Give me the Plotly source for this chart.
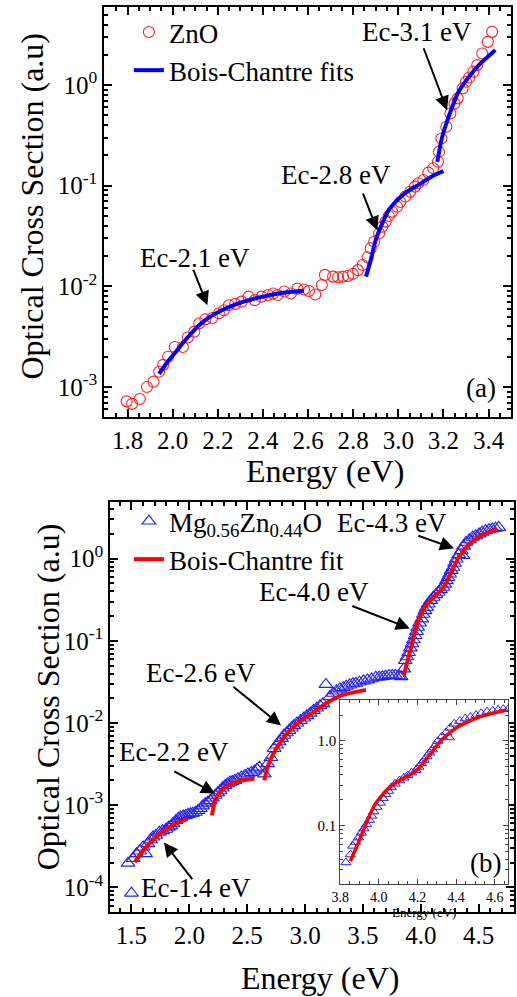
import plotly.graph_objects as go

# ---------------- Panel (a): ZnO ----------------
zno_E = [1.796, 1.82, 1.854, 1.886, 1.915, 1.94, 1.958, 1.98, 2.009, 2.045, 2.067, 2.096,
         2.118, 2.145, 2.176, 2.205, 2.227, 2.249, 2.277, 2.306, 2.336, 2.364, 2.394, 2.423,
         2.445, 2.466, 2.495, 2.524, 2.553, 2.582, 2.604, 2.632, 2.661, 2.675, 2.711, 2.733,
         2.755, 2.777, 2.799, 2.821, 2.842, 2.864, 2.878, 2.893, 2.915, 2.929, 2.944, 2.958,
         2.973, 2.995, 3.009, 3.031, 3.053, 3.074, 3.089, 3.111, 3.133, 3.155, 3.176, 3.18,
         3.191, 3.213, 3.231, 3.249, 3.263, 3.285, 3.30, 3.314, 3.333, 3.35, 3.372, 3.397, 3.416]
zno_sigma = [7.2e-4, 6.8e-4, 7.6e-4, 1.0e-3, 1.13e-3, 1.42e-3, 1.66e-3, 2.0e-3, 2.5e-3, 2.5e-3,
             3.1e-3, 3.55e-3, 4.3e-3, 4.7e-3, 4.85e-3, 5.4e-3, 5.8e-3, 6.5e-3, 6.7e-3, 7.05e-3,
             7.9e-3, 7.3e-3, 7.9e-3, 8.2e-3, 8.5e-3, 8.2e-3, 8.9e-3, 8.5e-3, 9.5e-3, 9.3e-3,
             9.0e-3, 8.3e-3, 1.03e-2, 1.3e-2, 1.25e-2, 1.23e-2, 1.25e-2, 1.27e-2, 1.33e-2, 1.45e-2,
             1.63e-2, 1.95e-2, 2.39e-2, 2.78e-2, 3.37e-2, 3.92e-2, 4.4e-2, 5.0e-2, 5.5e-2, 6.2e-2,
             6.9e-2, 7.8e-2, 8.7e-2, 9.8e-2, 0.106, 0.114, 0.135, 0.149, 0.173, 0.218, 0.295,
             0.386, 0.523, 0.658, 0.738, 0.927, 1.08, 1.19, 1.36, 1.58, 2.06, 2.69, 3.38]

fitA1_E = [1.94, 1.975, 2.009, 2.06, 2.118, 2.16, 2.205, 2.27, 2.336, 2.40, 2.466, 2.53, 2.582]
fitA1_s = [1.35e-3, 1.75e-3, 2.17e-3, 3.0e-3, 4.14e-3, 4.9e-3, 5.6e-3, 6.5e-3, 7.3e-3, 7.9e-3,
           8.5e-3, 8.85e-3, 9.06e-3]
fitA2_E = [2.857, 2.878, 2.90, 2.929, 2.958, 2.995, 3.038, 3.089, 3.147, 3.20]
fitA2_s = [1.25e-2, 1.83e-2, 2.89e-2, 4.23e-2, 5.74e-2, 7.2e-2, 8.7e-2, 0.102, 0.123, 0.14]
fitA3_E = [3.173, 3.191, 3.213, 3.234, 3.263, 3.307, 3.357, 3.43]
fitA3_s = [0.173, 0.284, 0.416, 0.565, 0.826, 1.16, 1.58, 2.23]

# ---------------- Panel (b): Mg0.56Zn0.44O ----------------
mzo_E = [1.47, 1.50, 1.514, 1.543, 1.571, 1.60, 1.622, 1.642, 1.665, 1.685, 1.71, 1.741, 1.77,
         1.798, 1.82, 1.84, 1.86, 1.883, 1.905, 1.925, 1.947, 1.968, 1.99, 2.01, 2.03, 2.053,
         2.075, 2.095, 2.115, 2.138, 2.16, 2.18, 2.20, 2.223, 2.245, 2.265, 2.285, 2.308, 2.33,
         2.35, 2.37, 2.393, 2.42, 2.45, 2.48, 2.506, 2.535, 2.563, 2.585, 2.605, 2.648, 2.676,
         2.705, 2.733, 2.755, 2.776, 2.797, 2.818, 2.84, 2.861, 2.882, 2.903, 2.93, 2.96, 2.99,
         3.016, 3.045, 3.073, 3.10, 3.13, 3.155, 3.18, 3.215, 3.243, 3.27, 3.30, 3.33, 3.356,
         3.385, 3.413, 3.44, 3.47, 3.505, 3.54, 3.575, 3.611, 3.64, 3.668, 3.695, 3.725, 3.753,
         3.781, 3.81, 3.83, 3.853, 3.866, 3.88, 3.895, 3.91, 3.923, 3.937, 3.951, 3.963, 3.974,
         3.99, 4.008, 4.022, 4.036, 4.05, 4.065, 4.085, 4.108, 4.13, 4.15, 4.17, 4.193, 4.207,
         4.221, 4.235, 4.249, 4.263, 4.278, 4.292, 4.306, 4.328, 4.349, 4.365, 4.37, 4.391,
         4.42, 4.448, 4.475, 4.504, 4.53, 4.561, 4.59, 4.618, 4.645, 4.674]
mzo_sigma = [1.97e-4, 8.5e-5, 2.24e-4, 2.57e-4, 2.77e-4, 3.1e-4, 2.57e-4, 3.4e-4, 3.8e-4, 4.1e-4,
             4.3e-4, 4.7e-4, 4.9e-4, 5.1e-4, 5.4e-4, 5.6e-4, 6.0e-4, 6.5e-4, 6.9e-4, 7.2e-4,
             7.4e-4, 7.5e-4, 7.7e-4, 7.9e-4, 8.0e-4, 8.2e-4, 8.6e-4, 9.1e-4, 9.8e-4, 1.04e-3,
             1.09e-3, 1.14e-3, 1.22e-3, 1.32e-3, 1.41e-3, 1.5e-3, 1.62e-3, 1.73e-3, 1.82e-3,
             1.9e-3, 1.95e-3, 2.0e-3, 2.1e-3, 2.2e-3, 2.3e-3, 2.4e-3, 2.5e-3, 2.6e-3, 2.75e-3,
             2.9e-3, 2.4e-3, 3.2e-3, 3.8e-3, 4.9e-3, 5.4e-3, 5.9e-3, 6.5e-3, 7.1e-3, 7.6e-3,
             8.1e-3, 8.7e-3, 9.3e-3, 1.0e-2, 1.07e-2, 1.15e-2, 1.23e-2, 1.32e-2, 1.42e-2, 1.52e-2,
             1.63e-2, 1.72e-2, 2.95e-2, 2.1e-2, 2.3e-2, 2.45e-2, 2.6e-2, 2.7e-2, 2.8e-2, 2.9e-2,
             3.0e-2, 3.05e-2, 3.15e-2, 3.25e-2, 3.35e-2, 3.45e-2, 3.6e-2, 3.62e-2, 3.67e-2,
             3.72e-2, 3.8e-2, 3.8e-2, 3.8e-2, 3.75e-2, 3.67e-2, 4.55e-2, 5.75e-2, 6.4e-2, 7.2e-2,
             8.2e-2, 9.2e-2, 0.103, 0.116, 0.13, 0.146, 0.165, 0.185, 0.21, 0.233, 0.255, 0.281,
             0.31, 0.339, 0.365, 0.39, 0.42, 0.448, 0.49, 0.54, 0.59, 0.65, 0.72, 0.785, 0.88,
             0.99, 1.12, 1.25, 1.09, 1.42, 1.58, 1.7, 1.82, 1.9, 2.0, 2.1, 2.19, 2.25, 2.3, 2.35, 2.4]

fitB1_E = [1.528, 1.6, 1.713, 1.855, 1.982]
fitB1_s = [2.03e-4, 2.8e-4, 4.1e-4, 5.7e-4, 6.8e-4]
fitB2_E = [2.195, 2.223, 2.265, 2.336, 2.45, 2.563]
fitB2_s = [7.5e-4, 1.14e-3, 1.44e-3, 1.74e-3, 2.0e-3, 2.1e-3]
fitB3_E = [2.648, 2.676, 2.733, 2.818, 2.931, 3.073, 3.186, 3.328, 3.526]
fitB3_s = [2.0e-3, 2.9e-3, 4.4e-3, 6.7e-3, 9.8e-3, 1.35e-2, 1.75e-2, 2.2e-2, 2.53e-2]
fitB4_E = [3.853, 3.895, 3.938, 3.98, 4.036, 4.108, 4.179, 4.207, 4.264, 4.32, 4.406, 4.519, 4.66]
fitB4_s = [3.8e-2, 6.3e-2, 0.11, 0.176, 0.256, 0.339, 0.417, 0.47, 0.68, 0.99, 1.44, 1.9, 2.3]

inset_Emin = 3.83

# tick labels
a_yticks = [1e-3, 1e-2, 1e-1, 1]
a_ytext = ["10<sup>-3</sup>", "10<sup>-2</sup>", "10<sup>-1</sup>", "10<sup>0</sup>"]
b_yticks = [1e-4, 1e-3, 1e-2, 1e-1, 1]
b_ytext = ["10<sup>-4</sup>", "10<sup>-3</sup>", "10<sup>-2</sup>", "10<sup>-1</sup>", "10<sup>0</sup>"]
c_yticks = [0.1, 1]
c_ytext = ["0.1", "1.0"]

FONT = "Times New Roman, Liberation Serif, serif"


def join_segments(*segs):
    xs, ys = [], []
    for sx, sy in segs:
        xs += list(sx) + [None]
        ys += list(sy) + [None]
    return xs, ys


def minor_logvals(lo, hi):
    vals = []
    for d in range(lo, hi + 1):
        for m in range(2, 10):
            vals.append(m * 10.0 ** d)
    return vals


fig = go.Figure()

# panel (a)
fig.add_trace(go.Scatter(x=zno_E, y=zno_sigma, mode="markers", name="ZnO",
                         marker=dict(symbol="circle-open", size=11, color="#ff2020", line=dict(width=1.1)),
                         xaxis="x", yaxis="y", legend="legend"))
fxa, fya = join_segments((fitA1_E, fitA1_s), (fitA2_E, fitA2_s), (fitA3_E, fitA3_s))
fig.add_trace(go.Scatter(x=fxa, y=fya, mode="lines", name="Bois-Chantre fits",
                         line=dict(color="#0000ff", width=4, shape="spline", smoothing=0.6),
                         connectgaps=False, xaxis="x", yaxis="y", legend="legend"))

# panel (b)
fig.add_trace(go.Scatter(x=mzo_E, y=mzo_sigma, mode="markers",
                         name="Mg<sub>0.56</sub>Zn<sub>0.44</sub>O",
                         marker=dict(symbol="triangle-up-open", size=12, color="#2020ff", line=dict(width=1.1)),
                         xaxis="x2", yaxis="y2", legend="legend2"))
fxb, fyb = join_segments((fitB1_E, fitB1_s), (fitB2_E, fitB2_s), (fitB3_E, fitB3_s), (fitB4_E, fitB4_s))
fig.add_trace(go.Scatter(x=fxb, y=fyb, mode="lines", name="Bois-Chantre fit",
                         line=dict(color="#ff0000", width=4, shape="spline", smoothing=0.5),
                         connectgaps=False, xaxis="x2", yaxis="y2", legend="legend2"))

# inset
ins_x = [e for e in mzo_E if e >= inset_Emin]
ins_y = [s for e, s in zip(mzo_E, mzo_sigma) if e >= inset_Emin]
fig.add_trace(go.Scatter(x=ins_x, y=ins_y, mode="markers", showlegend=False,
                         marker=dict(symbol="triangle-up-open", size=9, color="#2020ff", line=dict(width=1)),
                         xaxis="x3", yaxis="y3"))
fig.add_trace(go.Scatter(x=fitB4_E, y=fitB4_s, mode="lines", showlegend=False,
                         line=dict(color="#ff0000", width=3.5, shape="spline", smoothing=0.5),
                         xaxis="x3", yaxis="y3"))

W, H = 517, 997


def px(xp):
    return xp / W


def py(yp):
    return 1 - yp / H


axis_common = dict(showline=True, linewidth=2, linecolor="black", mirror="allticks",
                   ticks="inside", ticklen=8, tickwidth=2, tickcolor="black", showgrid=False,
                   zeroline=False, tickfont=dict(family=FONT, size=25, color="black"))

fig.update_layout(
    width=W, height=H, margin=dict(l=0, r=0, t=0, b=0),
    paper_bgcolor="white", plot_bgcolor="white",
    font=dict(family=FONT, color="black"),
    xaxis=dict(domain=[px(97), px(511)], range=[1.697, 3.5], anchor="y",
               tick0=1.8, dtick=0.2, tickformat=".1f",
               minor=dict(dtick=0.05, ticks="inside", ticklen=4, tickwidth=1.5, tickcolor="black"),
               **axis_common),
    yaxis=dict(domain=[py(417), py(7)], type="log", range=[-3.298, 0.776], anchor="x",
               tickmode="array", tickvals=a_yticks, ticktext=a_ytext,
               minor=dict(tickmode="array", tickvals=minor_logvals(-4, 0), ticks="inside",
                          ticklen=4, tickwidth=1.5, tickcolor="black"),
               **axis_common),
    xaxis2=dict(domain=[px(103), px(514)], range=[1.316, 4.806], anchor="y2",
                tick0=1.5, dtick=0.5, tickformat=".1f",
                minor=dict(dtick=0.1, ticks="inside", ticklen=4, tickwidth=1.5, tickcolor="black"),
                **axis_common),
    yaxis2=dict(domain=[py(912), py(502)], type="log", range=[-4.30, 0.689], anchor="x2",
                tickmode="array", tickvals=b_yticks, ticktext=b_ytext,
                minor=dict(tickmode="array", tickvals=minor_logvals(-5, 0), ticks="inside",
                           ticklen=4, tickwidth=1.5, tickcolor="black"),
                **axis_common),
    xaxis3=dict(domain=[px(337), px(508)], range=[3.8, 4.67], anchor="y3",
                tick0=3.8, dtick=0.2, tickformat=".1f",
                showline=True, linewidth=1, linecolor="#444", mirror="allticks",
                ticks="inside", ticklen=5, tickwidth=1, tickcolor="#444", showgrid=False, zeroline=False,
                tickfont=dict(family=FONT, size=14, color="black"),
                minor=dict(dtick=0.05, ticks="inside", ticklen=3, tickwidth=1, tickcolor="#444")),
    yaxis3=dict(domain=[py(884), py(700)], type="log", range=[-1.689, 0.479], anchor="x3",
                tickmode="array", tickvals=c_yticks, ticktext=c_ytext,
                showline=True, linewidth=1, linecolor="#444", mirror="allticks",
                ticks="inside", ticklen=5, tickwidth=1, tickcolor="#444", showgrid=False, zeroline=False,
                tickfont=dict(family=FONT, size=15, color="black"),
                minor=dict(tickmode="array", tickvals=minor_logvals(-2, 0), ticks="inside",
                           ticklen=3, tickwidth=1, tickcolor="#444")),
    legend=dict(x=px(122), y=py(8), xanchor="left", yanchor="top", bgcolor="rgba(0,0,0,0)",
                font=dict(family=FONT, size=27, color="black"), tracegroupgap=0),
    legend2=dict(x=px(122), y=py(497), xanchor="left", yanchor="top", bgcolor="rgba(0,0,0,0)",
                 font=dict(family=FONT, size=27, color="black"), tracegroupgap=0),
    showlegend=True,
)

annotations = []


def text_ann(t, x, y, xref, yref, size=27):
    annotations.append(dict(text=t, x=x, y=y, xref=xref, yref=yref, showarrow=False,
                            xanchor="center", yanchor="middle",
                            font=dict(family=FONT, size=size, color="black")))


def arrow_ann(xh, yh, xt, yt, xref, yref):
    annotations.append(dict(text="", x=xh, y=yh, ax=xt, ay=yt, xref=xref, yref=yref,
                            axref=xref, ayref=yref, showarrow=True, arrowhead=2,
                            arrowsize=1.4, arrowwidth=2, arrowcolor="black", standoff=0))


# panel (a) labels (y in log10 units)
text_ann("Ec-3.1 eV", 3.081, 0.527, "x", "y")
arrow_ann(3.216, -0.249, 3.110, 0.381, "x", "y")
text_ann("Ec-2.8 eV", 2.724, -0.895, "x", "y")
arrow_ann(2.907, -1.442, 2.841, -1.064, "x", "y")
text_ann("Ec-2.1 eV", 2.097, -1.72, "x", "y")
arrow_ann(2.154, -2.188, 2.089, -1.82, "x", "y")

# panel (b) labels
text_ann("Ec-4.3 eV", 3.752, 0.43, "x2", "y2")
arrow_ann(4.287, 0.125, 3.965, 0.284, "x2", "y2")
text_ann("Ec-4.0 eV", 3.081, -0.41, "x2", "y2")
arrow_ann(3.905, -0.849, 3.395, -0.569, "x2", "y2")
text_ann("Ec-2.6 eV", 2.103, -1.397, "x2", "y2")
arrow_ann(2.792, -2.03, 2.367, -1.543, "x2", "y2")
text_ann("Ec-2.2 eV", 1.865, -2.359, "x2", "y2")
arrow_ann(2.222, -2.858, 1.857, -2.578, "x2", "y2")
text_ann("Ec-1.4 eV", 2.061, -4.003, "x2", "y2")
arrow_ann(1.780, -3.455, 2.035, -3.918, "x2", "y2")

# panel tags
text_ann("(a)", px(480), py(388), "paper", "paper")
text_ann("(b)", px(485), py(863), "paper", "paper")

# axis titles
text_ann("Energy (eV)", px(322), py(471), "paper", "paper", size=32)
text_ann("Energy (eV)", px(317), py(978), "paper", "paper", size=32)
text_ann("Energy (eV)", px(422), py(912), "paper", "paper", size=13)
annotations.append(dict(text="Optical Cross Section (a.u)", x=px(23), y=py(206), xref="paper", yref="paper",
                        showarrow=False, textangle=-90, xanchor="center", yanchor="middle",
                        font=dict(family=FONT, size=32, color="black")))
annotations.append(dict(text="Optical Cross Section (a.u)", x=px(40), y=py(697), xref="paper", yref="paper",
                        showarrow=False, textangle=-90, xanchor="center", yanchor="middle",
                        font=dict(family=FONT, size=32, color="black")))

fig.update_layout(annotations=annotations)

fig.write_html("out.html")
